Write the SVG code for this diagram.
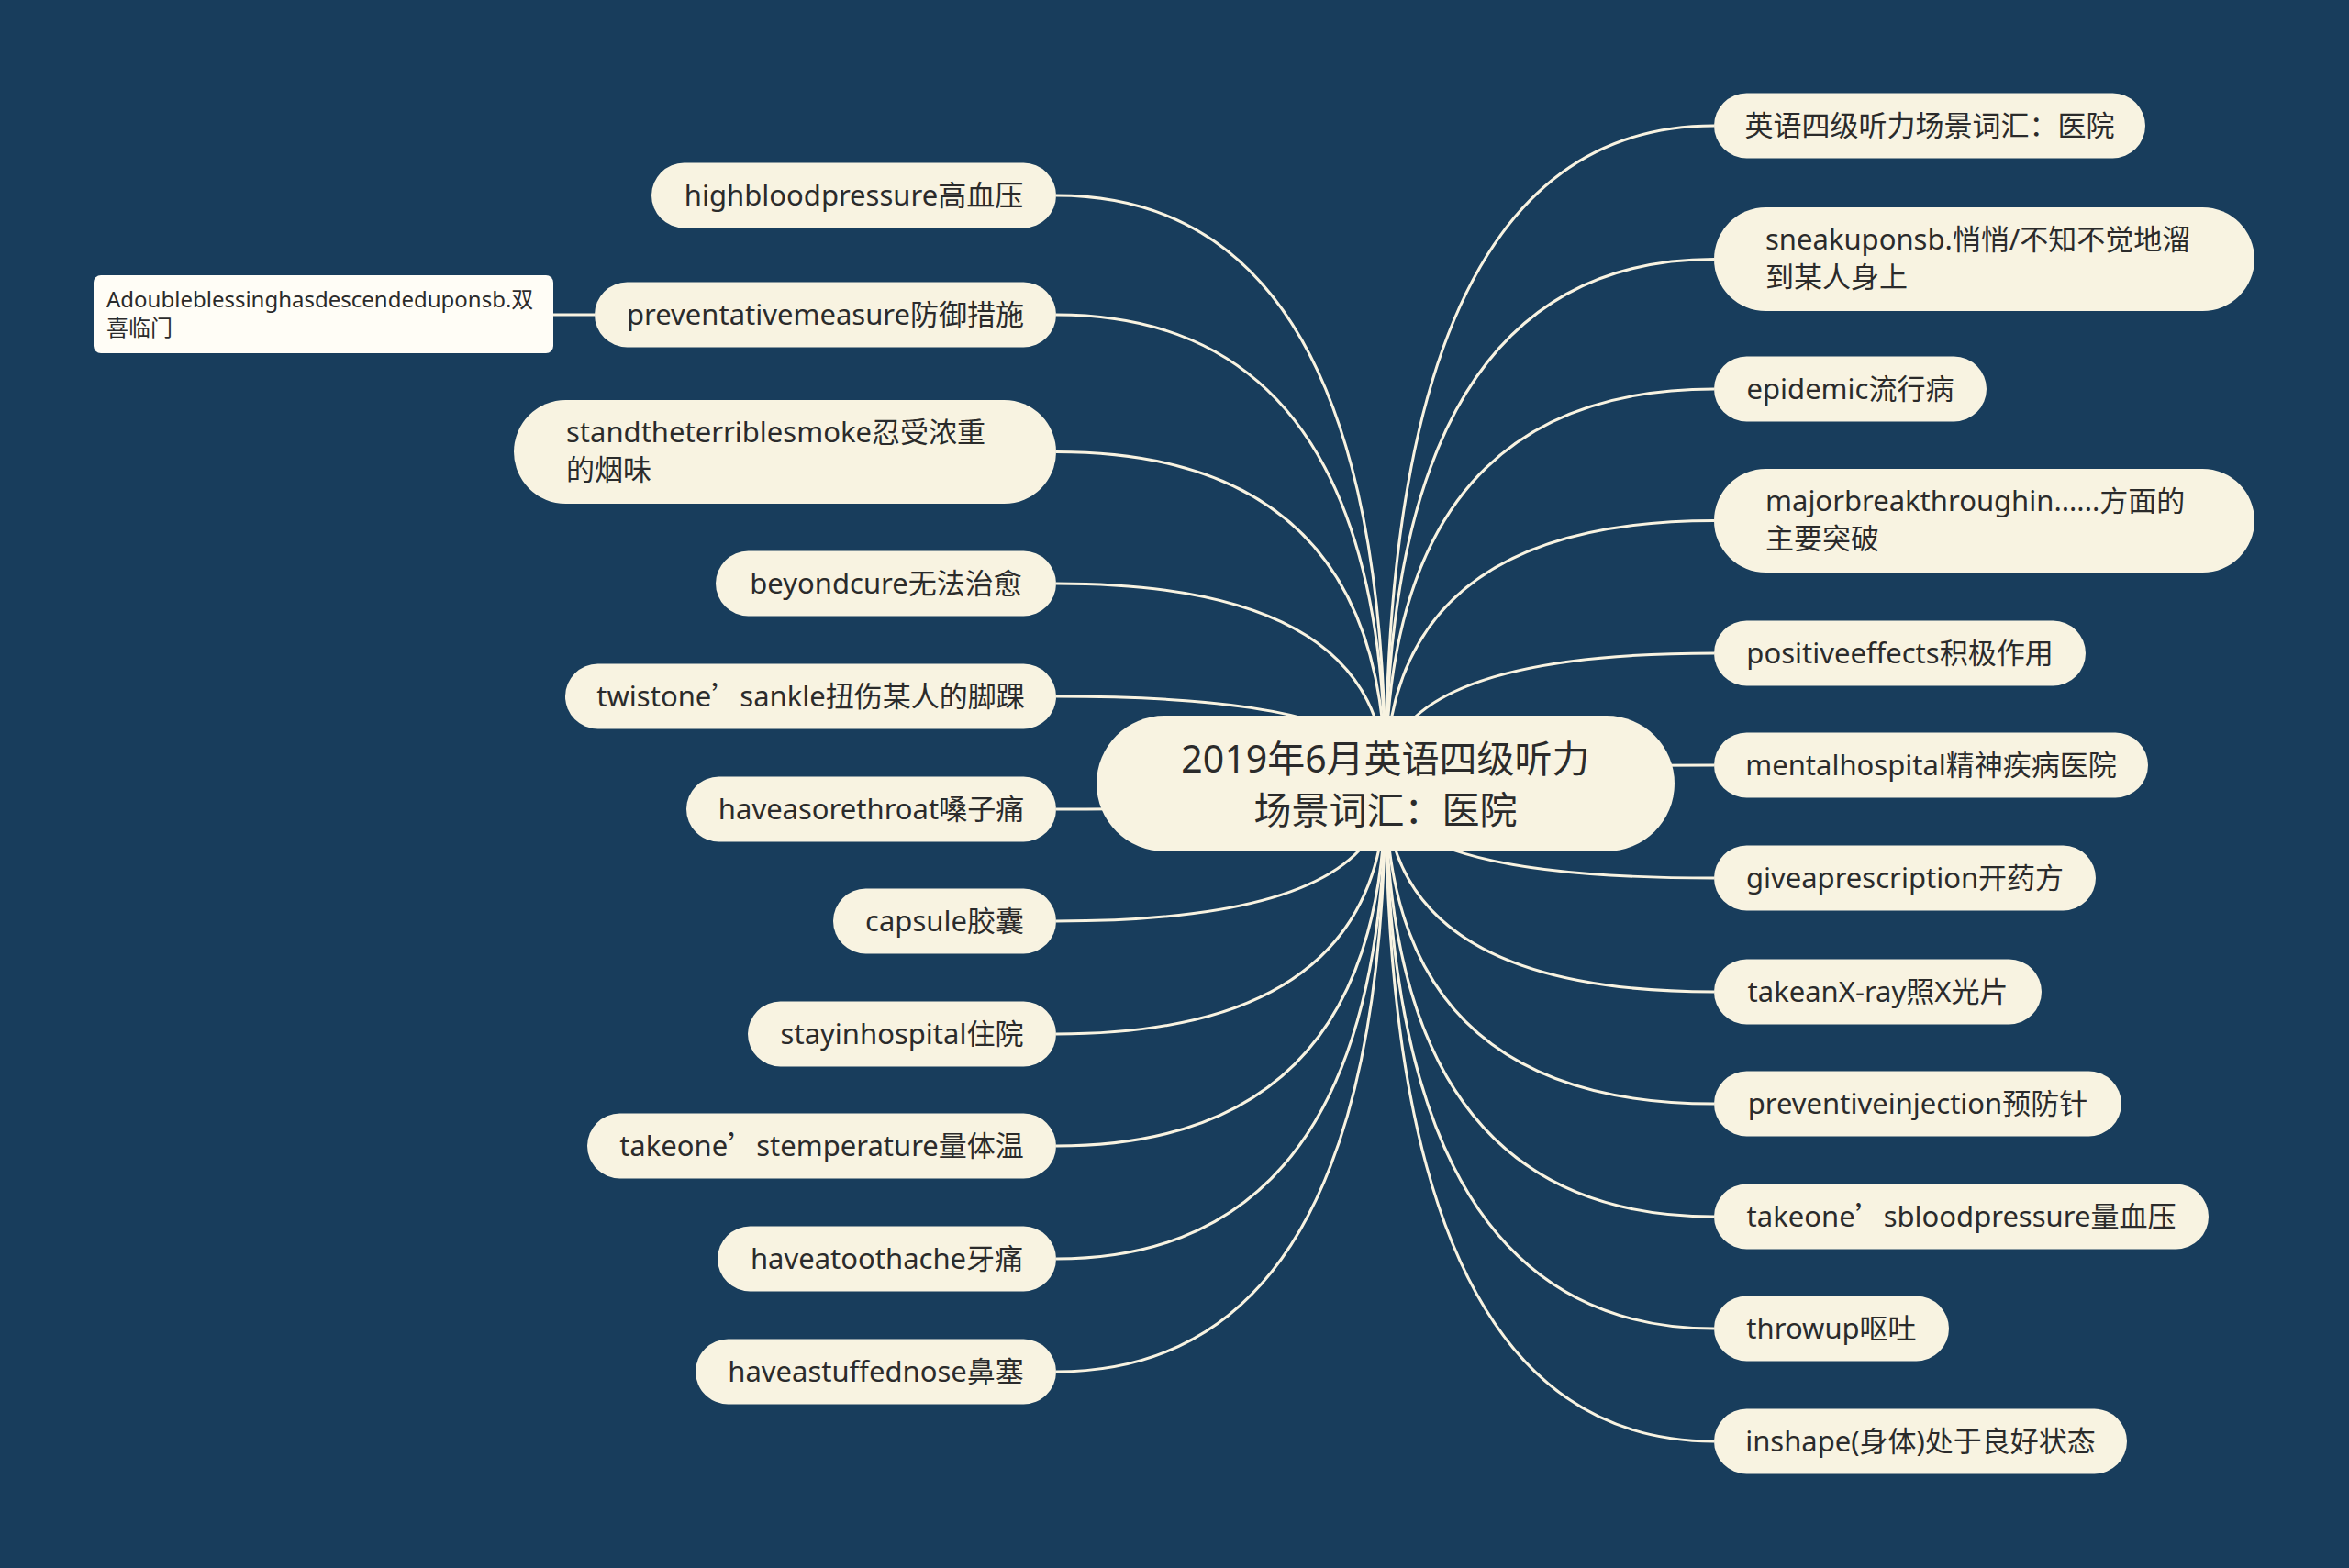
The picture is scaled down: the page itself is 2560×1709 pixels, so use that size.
<svg xmlns="http://www.w3.org/2000/svg" width="2560" height="1709" viewBox="0 0 2560 1709">
<defs>
<style>
.bg{fill:#183d5c}
.node rect{fill:#f8f3e1}
.t{font-family:"Noto Sans","Noto Sans CJK SC",sans-serif;font-size:31px;fill:#2b2b2b}
.c{text-anchor:middle}
.root{font-family:"Noto Sans","Noto Sans CJK SC",sans-serif;font-size:41px;fill:#2b2b2b;text-anchor:middle}
.detail rect{fill:#fffdf6}
.dt{font-family:"Noto Sans","Noto Sans CJK SC",sans-serif;font-size:24px;fill:#2b2b2b}
.q{font-family:"Noto Sans CJK SC",sans-serif}
#connectors path{fill:none;stroke:#f8f3e1;stroke-width:3}
</style>
</defs>
<rect class="bg" x="0" y="0" width="2560" height="1709"/>
<g id="connectors">
<path d="M1151 213 Q1510 213 1510 854"/>
<path d="M1151 343 Q1510 343 1510 854"/>
<path d="M1151 492.5 Q1510 492.5 1510 854"/>
<path d="M1151 636 Q1510 636 1510 854"/>
<path d="M1151 759 Q1510 759 1510 854"/>
<path d="M1151 882 Q1510 882 1510 854"/>
<path d="M1151 1004 Q1510 1004 1510 854"/>
<path d="M1151 1127 Q1510 1127 1510 854"/>
<path d="M1151 1249 Q1510 1249 1510 854"/>
<path d="M1151 1372 Q1510 1372 1510 854"/>
<path d="M1151 1495 Q1510 1495 1510 854"/>
<path d="M1868 137 Q1510 137 1510 854"/>
<path d="M1868 282.5 Q1510 282.5 1510 854"/>
<path d="M1868 424 Q1510 424 1510 854"/>
<path d="M1868 567.5 Q1510 567.5 1510 854"/>
<path d="M1868 712 Q1510 712 1510 854"/>
<path d="M1868 834 Q1510 834 1510 854"/>
<path d="M1868 957 Q1510 957 1510 854"/>
<path d="M1868 1081 Q1510 1081 1510 854"/>
<path d="M1868 1203 Q1510 1203 1510 854"/>
<path d="M1868 1326 Q1510 1326 1510 854"/>
<path d="M1868 1448 Q1510 1448 1510 854"/>
<path d="M1868 1571 Q1510 1571 1510 854"/>
<path d="M603 343 L648 343"/>
</g>
<g id="root" class="node">
<rect x="1195" y="780" width="630" height="148" rx="74"/>
<text class="root" x="1510" y="842">2019年6月英语四级听力</text>
<text class="root" x="1510" y="898">场景词汇：医院</text>
</g>
<g id="n-highbloodpressure" class="node">
<rect x="710" y="177.5" width="441" height="71" rx="35.5"/>
<text class="t c" x="930.5" y="224">highbloodpressure高血压</text>
</g>
<g id="n-preventativemeasure" class="node">
<rect x="648" y="307.5" width="503" height="71" rx="35.5"/>
<text class="t c" x="899.5" y="354">preventativemeasure防御措施</text>
</g>
<g id="d-doubleblessing" class="detail">
<rect x="102" y="300" width="501" height="85" rx="8"/>
<text class="dt" x="116" y="335">Adoubleblessinghasdescendeduponsb.双</text>
<text class="dt" x="116" y="366">喜临门</text>
</g>
<g id="n-standtheterriblesmoke" class="node">
<rect x="560" y="436" width="591" height="113" rx="56.5"/>
<text class="t" x="617" y="482">standtheterriblesmoke忍受浓重</text>
<text class="t" x="617" y="523">的烟味</text>
</g>
<g id="n-beyondcure" class="node">
<rect x="780" y="600.5" width="371" height="71" rx="35.5"/>
<text class="t c" x="965.5" y="647">beyondcure无法治愈</text>
</g>
<g id="n-twistonesankle" class="node">
<rect x="616" y="723.5" width="535" height="71" rx="35.5"/>
<text class="t c" x="883.5" y="770">twistone<tspan class="q">’</tspan>sankle扭伤某人的脚踝</text>
</g>
<g id="n-haveasorethroat" class="node">
<rect x="748" y="846.5" width="403" height="71" rx="35.5"/>
<text class="t c" x="949.5" y="893">haveasorethroat嗓子痛</text>
</g>
<g id="n-capsule" class="node">
<rect x="908" y="968.5" width="243" height="71" rx="35.5"/>
<text class="t c" x="1029.5" y="1015">capsule胶囊</text>
</g>
<g id="n-stayinhospital" class="node">
<rect x="815" y="1091.5" width="336" height="71" rx="35.5"/>
<text class="t c" x="983" y="1138">stayinhospital住院</text>
</g>
<g id="n-takeonestemperature" class="node">
<rect x="640" y="1213.5" width="511" height="71" rx="35.5"/>
<text class="t c" x="895.5" y="1260">takeone<tspan class="q">’</tspan>stemperature量体温</text>
</g>
<g id="n-haveatoothache" class="node">
<rect x="782" y="1336.5" width="369" height="71" rx="35.5"/>
<text class="t c" x="966.5" y="1383">haveatoothache牙痛</text>
</g>
<g id="n-haveastuffednose" class="node">
<rect x="758" y="1459.5" width="393" height="71" rx="35.5"/>
<text class="t c" x="954.5" y="1506">haveastuffednose鼻塞</text>
</g>
<g id="n-title" class="node">
<rect x="1868" y="101.5" width="470" height="71" rx="35.5"/>
<text class="t c" x="2103" y="148">英语四级听力场景词汇：医院</text>
</g>
<g id="n-sneakuponsb" class="node">
<rect x="1868" y="226" width="589" height="113" rx="56.5"/>
<text class="t" x="1924" y="272">sneakuponsb.悄悄/不知不觉地溜</text>
<text class="t" x="1924" y="313">到某人身上</text>
</g>
<g id="n-epidemic" class="node">
<rect x="1868" y="388.5" width="297" height="71" rx="35.5"/>
<text class="t c" x="2016.5" y="435">epidemic流行病</text>
</g>
<g id="n-majorbreakthrough" class="node">
<rect x="1868" y="511" width="589" height="113" rx="56.5"/>
<text class="t" x="1924" y="557">majorbreakthroughin......方面的</text>
<text class="t" x="1924" y="598">主要突破</text>
</g>
<g id="n-positiveeffects" class="node">
<rect x="1868" y="676.5" width="405" height="71" rx="35.5"/>
<text class="t c" x="2070.5" y="723">positiveeffects积极作用</text>
</g>
<g id="n-mentalhospital" class="node">
<rect x="1868" y="798.5" width="473" height="71" rx="35.5"/>
<text class="t c" x="2104.5" y="845">mentalhospital精神疾病医院</text>
</g>
<g id="n-giveaprescription" class="node">
<rect x="1868" y="921.5" width="416" height="71" rx="35.5"/>
<text class="t c" x="2076" y="968">giveaprescription开药方</text>
</g>
<g id="n-takeanxray" class="node">
<rect x="1868" y="1045.5" width="357" height="71" rx="35.5"/>
<text class="t c" x="2046.5" y="1092">takeanX-ray照X光片</text>
</g>
<g id="n-preventiveinjection" class="node">
<rect x="1868" y="1167.5" width="444" height="71" rx="35.5"/>
<text class="t c" x="2090" y="1214">preventiveinjection预防针</text>
</g>
<g id="n-takeonesbloodpressure" class="node">
<rect x="1868" y="1290.5" width="539" height="71" rx="35.5"/>
<text class="t c" x="2137.5" y="1337">takeone<tspan class="q">’</tspan>sbloodpressure量血压</text>
</g>
<g id="n-throwup" class="node">
<rect x="1868" y="1412.5" width="256" height="71" rx="35.5"/>
<text class="t c" x="1996" y="1459">throwup呕吐</text>
</g>
<g id="n-inshape" class="node">
<rect x="1868" y="1535.5" width="450" height="71" rx="35.5"/>
<text class="t c" x="2093" y="1582">inshape(身体)处于良好状态</text>
</g>
</svg>
